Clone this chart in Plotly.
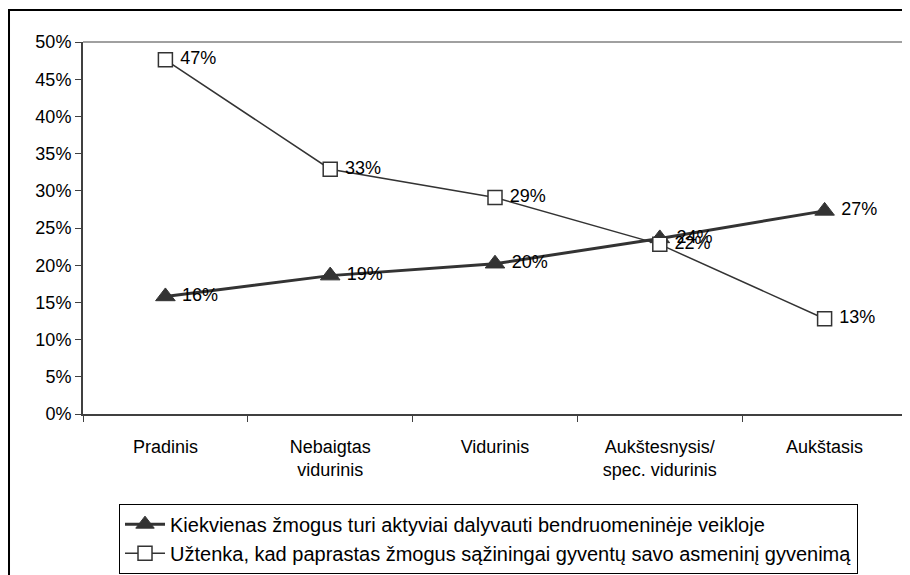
import plotly.graph_objects as go

# categories (education level)
categories = ['Pradinis', 'Nebaigtas<br>vidurinis', 'Vidurinis',
              'Aukštesnysis/<br>spec. vidurinis', 'Aukštasis']

# series values, %
aktyviai = [15.8, 18.6, 20.2, 23.6, 27.3]
aktyviai_labels = ['16%', '19%', '20%', '24%', '27%']
uztenka = [47.6, 32.9, 29.1, 22.8, 12.8]
uztenka_labels = ['47%', '33%', '29%', '22%', '13%']

name_a = 'Kiekvienas žmogus turi aktyviai dalyvauti bendruomeninėje veikloje'
name_u = 'Užtenka, kad paprastas žmogus sąžiningai gyventų savo asmeninį gyvenimą'

font = 'Liberation Sans, Arial, sans-serif'
dark = '#333333'

fig = go.Figure()

fig.add_trace(go.Scatter(
    x=categories, y=aktyviai, name=name_a, legendgroup='a',
    mode='lines+markers+text',
    text=[' ' + t for t in aktyviai_labels], textposition='middle right',
    textfont=dict(size=18, color='black', family=font),
    line=dict(color=dark, width=3),
    marker=dict(symbol='triangle-up', size=17, color=dark,
                line=dict(color=dark, width=1)),
    cliponaxis=False,
))

fig.add_trace(go.Scatter(
    x=categories, y=uztenka, name=name_u, legendgroup='u',
    mode='lines+markers+text',
    text=[' ' + t for t in uztenka_labels], textposition='middle right',
    textfont=dict(size=18, color='black', family=font),
    line=dict(color=dark, width=1.5),
    marker=dict(symbol='square', size=14, color='white',
                line=dict(color=dark, width=1.5)),
    cliponaxis=False,
))

# plot area border (top & right, gray) and outer chart frame
shapes = [
    dict(type='line', xref='paper', yref='paper', x0=0, x1=1, y0=1, y1=1,
         line=dict(color='#808080', width=1.5)),
    dict(type='line', xref='paper', yref='paper', x0=1, x1=1, y0=0, y1=1,
         line=dict(color='#808080', width=1.5)),
    dict(type='rect', xref='paper', yref='paper', x0=-0.0898, x1=1.2,
         y0=-0.6, y1=1.086, line=dict(color='black', width=2)),
]

fig.update_layout(
    width=910, height=575,
    margin=dict(l=75, r=11, t=34, b=169, autoexpand=False),
    paper_bgcolor='white', plot_bgcolor='white',
    font=dict(family=font, size=18, color='black'),
    shapes=shapes,
    showlegend=True,
    legend=dict(
        x=0.0437, xanchor='left', y=-0.241, yanchor='top',
        bordercolor='black', borderwidth=1, bgcolor='white',
        font=dict(size=20, family=font),
        tracegroupgap=0, itemwidth=40,
    ),
)

fig.update_xaxes(
    type='category', range=[-0.5, 4.5], showgrid=False, tickson='boundaries',
    ticks='outside', ticklen=6, tickcolor='#404040',
    showline=True, linecolor='#404040', linewidth=2,
    tickfont=dict(size=18), ticklabelstandoff=15, automargin=False,
)
fig.update_yaxes(
    range=[0, 50], dtick=5, ticksuffix='%', showgrid=False, zeroline=False,
    ticks='outside', ticklen=6, tickcolor='#404040',
    showline=True, linecolor='#404040', linewidth=2,
    tickfont=dict(size=18), automargin=False,
)

fig.write_html('out.html')
